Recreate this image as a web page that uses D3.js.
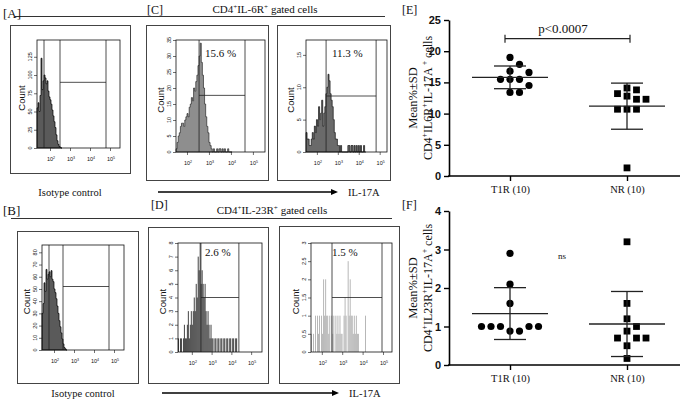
<!DOCTYPE html>
<html lang="en">
<head>
<meta charset="UTF-8" />
<title>CD4+ IL-17A panels</title>
<script src="https://cdn.jsdelivr.net/npm/d3@7"></script>
<style>
  body { margin: 0; background: #fff; }
  svg { display: block; background: #fff; }
  text { font-family: "Liberation Serif", "Times New Roman", serif; fill: #111; }
  .sans { font-family: "Liberation Sans", Arial, sans-serif; }
</style>
</head>
<body>
<svg width="685" height="409"></svg>
<script>
  // histogram counts, one bin per 0.05 decade from the left edge of each plot
  const histA = [55, 62, 50, 72, 123, 80, 92, 100, 96, 88, 92, 78, 70, 66, 60, 52, 44, 36, 28, 18, 10, 5, 2, 1, 0];
  const histB = [30, 38, 55, 48, 66, 58, 62, 64, 60, 65, 58, 56, 50, 47, 42, 36, 30, 24, 19, 14, 9, 5, 2, 1, 0];
  const histC1 = [1, 3, 5, 6, 8, 9, 9, 8, 10, 11, 12, 11, 14, 15, 17, 16, 20, 19, 22, 24, 27, 30, 34, 28, 24, 20, 15, 11, 8, 6,
                  3, 2, 1, 0, 1, 0, 0, 1, 0, 1, 1, 0, 1, 0, 1, 0, 0, 1, 0, 0, 0];
  const histC2 = [3, 2, 2, 1, 1, 2, 3, 2, 4, 3, 5, 4, 7, 5, 6, 8, 4, 6, 7, 9, 10, 12, 11, 9, 8, 7, 5, 3, 2, 2,
                  1, 1, 0, 1, 0, 0, 0, 0, 0, 0, 1, 1, 0, 1, 1, 0, 1, 0, 1, 0, 1, 0, 1, 0, 0, 1, 0];
  const histD1 = [1, 0, 1, 1, 0, 1, 2, 1, 1, 2, 3, 1, 2, 3, 2, 3, 4, 3, 5, 4, 7, 6, 8, 5, 6, 5, 4, 5, 3, 2,
                  3, 2, 1, 2, 1, 1, 0, 1, 1, 0, 1, 1, 0, 1, 1, 0, 1, 1, 0, 1, 1, 0, 1, 1, 0, 1, 1, 0, 1, 1, 0];
  const histD2 = [0.5, 0, 0.5, 0, 1, 0, 1, 0.5, 1, 0, 1, 0.5, 2, 1, 2, 1, 1, 0.5, 1, 0, 1, 0.5, 1, 0, 1, 0.5, 1, 0.5, 1, 0.5,
                  0.5, 0, 1, 1.5, 1, 0, 2.5, 1, 2, 1, 1, 0.5, 1, 0.5, 1, 0.5, 0.5, 0, 0, 0, 0, 0, 0, 1, 0];

  // % CD4+ cells per patient
  const groups = ["T1R (10)", "NR (10)"];
  const il6rT1R = [19.0, 17.9, 16.8, 15.5, 15.5, 15.5, 16.6, 14.5, 13.4, 13.4];
  const il6rNR = [14.1, 13.8, 13.2, 12.8, 12.3, 12.3, 10.7, 10.7, 10.7, 1.3];
  const il23rT1R = [2.9, 2.1, 1.6, 0.88, 0.88, 1.0, 1.0, 1.0, 1.0, 1.0];
  const il23rNR = [3.2, 1.6, 1.2, 1.0, 0.88, 0.7, 0.7, 0.7, 0.5, 0.17];

  const svg = d3.select("svg");
  const binStep = 0.05;

  function rich(t, parts, size) {
    let shift = 0;
    parts.forEach(([s, sup]) => {
      const target = sup ? -size * 0.38 : 0;
      t.append("tspan").attr("dy", target - shift)
        .attr("font-size", sup ? size * 0.65 : size).text(s);
      shift = target;
    });
    return t;
  }

  function flowPanel(p) {
    const g = svg.append("g");
    const [fx0, fy0, fx1, fy1] = p.frame;
    const [px0, py0, px1, py1] = p.plot;
    g.append("rect").attr("x", fx0 + 0.5).attr("y", fy0 + 0.5)
      .attr("width", fx1 - fx0).attr("height", fy1 - fy0)
      .attr("fill", "none").attr("stroke", "#444").attr("stroke-width", 1);

    const x = d3.scaleLog().domain([10 ** p.dom[0], 10 ** p.dom[1]]).range([px0, px1]);
    const y = d3.scaleLinear().domain([0, p.yMax]).range([py1, py0]);

    const pts = p.counts.map((c, i) => [10 ** (p.dom[0] + i * binStep), c]);
    if (p.kind === "area") {
      pts.push([10 ** (p.dom[0] + p.counts.length * binStep), 0]);
      const area = d3.area().x(d => x(d[0])).y0(y(0)).y1(d => y(d[1])).curve(d3.curveStepAfter);
      g.append("path").attr("d", area(pts))
        .attr("fill", p.fill).attr("stroke", p.stroke).attr("stroke-width", 0.7);
    } else {
      g.selectAll(".bar").data(pts.filter(d => d[1] > 0)).join("rect")
        .attr("x", d => x(d[0]))
        .attr("width", d => Math.max(0.8, x(d[0] * 10 ** binStep) - x(d[0]) - 0.2))
        .attr("y", d => y(d[1]))
        .attr("height", d => y(0) - y(d[1]))
        .attr("fill", p.fill);
    }

    // gates
    p.gates.forEach(v => {
      g.append("line").attr("x1", x(10 ** v)).attr("x2", x(10 ** v))
        .attr("y1", py0).attr("y2", py1).attr("stroke", "#222").attr("stroke-width", 0.8);
    });
    const gl = p.gates.length;
    g.append("line").attr("x1", x(10 ** p.gates[gl - 2])).attr("x2", x(10 ** p.gates[gl - 1]))
      .attr("y1", y(p.gateY)).attr("y2", y(p.gateY)).attr("stroke", "#222").attr("stroke-width", 0.8);

    g.append("rect").attr("x", px0).attr("y", py0).attr("width", px1 - px0).attr("height", py1 - py0)
      .attr("fill", "none").attr("stroke", "#111").attr("stroke-width", 0.8);

    // y axis
    const major = d3.range(0, p.yMax + 1e-9, p.yStep);
    const minor = d3.range(0, p.yMax + 1e-9, p.yMinor);
    const ya = g.append("g").attr("transform", `translate(${px0},0)`);
    ya.call(d3.axisLeft(y).tickValues(minor).tickSize(1.5).tickFormat(""));
    ya.call(d3.axisLeft(y).tickValues(major).tickSize(3).tickFormat(""));
    ya.selectAll(".domain").remove();
    ya.selectAll("line").attr("stroke", "#111").attr("stroke-width", 0.6);
    g.selectAll(".ylab").data(major).join("text")
      .attr("class", "sans")
      .attr("transform", d => `translate(${px0 - 5},${y(d)}) rotate(-90)`)
      .attr("text-anchor", "middle").attr("font-size", 5.5)
      .text(d => +d.toFixed(2));
    g.append("text").attr("class", "sans")
      .attr("transform", `translate(${px0 - 12},${(py0 + py1) / 2 + 4}) rotate(-90)`)
      .attr("text-anchor", "middle").attr("font-size", 9.5).text("Count");

    // x axis
    const decades = [1e2, 1e3, 1e4, 1e5];
    const xa = g.append("g").attr("transform", `translate(0,${py1})`);
    xa.call(d3.axisBottom(x).tickValues(x.ticks().filter(d => !decades.includes(d))).tickSize(1.5).tickFormat(""));
    xa.call(d3.axisBottom(x).tickValues(decades).tickSize(3).tickFormat(""));
    xa.selectAll(".domain").remove();
    xa.selectAll("line").attr("stroke", "#111").attr("stroke-width", 0.6);
    decades.forEach(d => {
      const t = g.append("text").attr("class", "sans").attr("x", x(d) + 1).attr("y", py1 + 13)
        .attr("text-anchor", "middle").attr("font-size", 5.5);
      rich(t, [["10", 0], [String(Math.round(Math.log10(d))), 1]], 5.5);
    });

    if (p.pct) {
      g.append("text").attr("x", p.pct[1]).attr("y", p.pct[2]).attr("font-size", 11).text(p.pct[0]);
    }
  }

  const flows = [
    { frame: [10, 25, 130, 173], plot: [37, 40, 120, 148], dom: [1.35, 5.5], yMax: 148, yStep: 25, yMinor: 5,
      gates: [1.7, 2.5, 4.8], gateY: 90, counts: histA, kind: "area", fill: "#5a5a5a", stroke: "#000" },
    { frame: [17, 231, 138, 383], plot: [42, 245, 124, 350], dom: [1.4, 5.5], yMax: 86, yStep: 10, yMinor: 2,
      gates: [1.75, 2.45, 4.75], gateY: 52, counts: histB, kind: "area", fill: "#5a5a5a", stroke: "#000" },
    { frame: [146, 25, 268, 180], plot: [176, 40, 265, 152], dom: [1.5, 5.55], yMax: 35, yStep: 5, yMinor: 1,
      gates: [2.55, 4.64], gateY: 17.7, counts: histC1, kind: "area", fill: "#8e8e8e", stroke: "#2a2a2a",
      pct: ["15.6 %", 205, 57] },
    { frame: [277, 25, 390, 180], plot: [306, 40, 387, 152], dom: [1.48, 5.35], yMax: 17.3, yStep: 5, yMinor: 1,
      gates: [2.44, 4.83], gateY: 8.65, counts: histC2, kind: "area", fill: "#6a6a6a", stroke: "#111",
      pct: ["11.3 %", 332, 57] },
    { frame: [148, 227, 268, 383], plot: [178, 243, 262, 352], dom: [1.3, 5.55], yMax: 8, yStep: 1, yMinor: 0.2,
      gates: [2.46, 4.38], gateY: 4, counts: histD1, kind: "bars", fill: "#161616",
      pct: ["2.6 %", 205, 256] },
    { frame: [279, 226, 399, 383], plot: [311, 243, 392, 352], dom: [1.47, 5.44], yMax: 3, yStep: 0.5, yMinor: 0.1,
      gates: [2.5, 4.95], gateY: 1.5, counts: histD2, kind: "bars", fill: "#a8a8a8",
      pct: ["1.5 %", 332, 256] }
  ];
  flows.forEach(flowPanel);

  // headers, separators, arrows
  svg.append("line").attr("x1", 15).attr("x2", 385).attr("y1", 16.5).attr("y2", 16.5).attr("stroke", "#333");
  svg.append("line").attr("x1", 11).attr("x2", 392).attr("y1", 218.5).attr("y2", 218.5).attr("stroke", "#333");
  svg.append("text").attr("x", 3).attr("y", 18).attr("font-size", 13).text("[A]");
  svg.append("text").attr("x", 3).attr("y", 215).attr("font-size", 13).text("[B]");
  svg.append("text").attr("x", 147).attr("y", 14).attr("font-size", 12).text("[C]");
  svg.append("text").attr("x", 151).attr("y", 209).attr("font-size", 12).text("[D]");
  rich(svg.append("text").attr("x", 265).attr("y", 13).attr("text-anchor", "middle"),
    [["CD4", 0], ["+", 1], ["IL-6R", 0], ["+", 1], [" gated cells", 0]], 11);
  rich(svg.append("text").attr("x", 272).attr("y", 214).attr("text-anchor", "middle"),
    [["CD4", 0], ["+", 1], ["IL-23R", 0], ["+", 1], [" gated cells", 0]], 11);
  svg.append("text").attr("x", 70).attr("y", 196).attr("text-anchor", "middle").attr("font-size", 10.5).text("Isotype control");
  svg.append("text").attr("x", 83).attr("y", 397).attr("text-anchor", "middle").attr("font-size", 10.5).text("Isotype control");

  function arrow(x0, x1, yy) {
    svg.append("line").attr("x1", x0).attr("x2", x1 - 5).attr("y1", yy).attr("y2", yy)
      .attr("stroke", "#000").attr("stroke-width", 1.3);
    svg.append("path").attr("d", `M${x1},${yy} L${x1 - 7},${yy - 3} L${x1 - 7},${yy + 3} Z`).attr("fill", "#000");
    svg.append("text").attr("x", x1 + 10).attr("y", yy + 4).attr("font-size", 10.5).text("IL-17A");
  }
  arrow(158, 338, 192);
  arrow(162, 339, 393);

  // dot plots
  function swarm(values, y, step, minDist) {
    const placed = [];
    return values.map(v => {
      const py = y(v);
      for (let k = 0; ; k++) {
        const off = k === 0 ? 0 : (k % 2 ? 1 : -1) * Math.ceil(k / 2) * step;
        if (placed.every(p => Math.hypot(p.dx - off, p.py - py) >= minDist)) {
          const pt = { v, dx: off, py };
          placed.push(pt);
          return pt;
        }
      }
    });
  }

  function dotPanel(q) {
    const g = svg.append("g");
    const y = d3.scaleLinear().domain([0, q.yMax]).range([q.bottom, q.top]);
    const x = d3.scalePoint().domain(groups).range([510, 627]);

    const ya = g.append("g").attr("transform", "translate(449,0)")
      .call(d3.axisLeft(y).tickValues(q.ticks).tickFormat(d3.format("d"))
        .tickSize(5).tickSizeOuter(0).tickPadding(3));
    ya.select(".domain").attr("stroke-width", 1.6);
    ya.selectAll("line").attr("stroke-width", 1.4);
    ya.selectAll("text").attr("class", "sans").attr("font-size", 11).attr("font-weight", "bold");

    g.append("line").attr("x1", 448).attr("x2", 680).attr("y1", y(0)).attr("y2", y(0))
      .attr("stroke", "#000").attr("stroke-width", 1.6);
    const xa = g.append("g").attr("transform", `translate(0,${y(0)})`)
      .call(d3.axisBottom(x).tickSize(5).tickSizeOuter(0).tickPadding(5));
    xa.select(".domain").remove();
    xa.selectAll("line").attr("stroke-width", 1.4);
    xa.selectAll("text").attr("font-size", 10.5)
      .style("font-family", '"Liberation Serif", "Times New Roman", serif');

    q.series.forEach((vals, i) => {
      const cx = x(groups[i]);
      const m = d3.mean(vals), sd = d3.deviation(vals);
      const pts = swarm(vals, y, 9.5, 8);
      if (i === 0) {
        g.selectAll(".c" + i).data(pts).join("circle")
          .attr("cx", d => cx + d.dx).attr("cy", d => d.py).attr("r", 3.6).attr("fill", "#000");
      } else {
        g.selectAll(".c" + i).data(pts).join("rect")
          .attr("x", d => cx + d.dx - 3.4).attr("y", d => d.py - 3.4)
          .attr("width", 6.8).attr("height", 6.8).attr("fill", "#000");
      }
      const ln = (x1, x2, y1, y2) => g.append("line").attr("x1", x1).attr("x2", x2).attr("y1", y1).attr("y2", y2)
        .attr("stroke", "#222").attr("stroke-width", 1.3);
      ln(cx - 38, cx + 38, y(m), y(m));
      ln(cx - 16, cx + 16, y(m + sd), y(m + sd));
      ln(cx - 16, cx + 16, y(m - sd), y(m - sd));
      ln(cx, cx, y(m + sd), y(m - sd));
    });

    const mid = (q.top + q.bottom) / 2;
    rich(g.append("text").attr("transform", `translate(417,${mid}) rotate(-90)`).attr("text-anchor", "middle"),
      [["Mean%±SD", 0]], 12.5);
    rich(g.append("text").attr("transform", `translate(432,${mid}) rotate(-90)`).attr("text-anchor", "middle"),
      q.title, 12);
    g.append("text").attr("x", 402).attr("y", q.labelY).attr("font-size", 12).text(q.label);
    return { g, x, y };
  }

  const e = dotPanel({ top: 20, bottom: 176, yMax: 25, ticks: [0, 5, 10, 15, 20, 25],
    series: [il6rT1R, il6rNR], label: "[E]", labelY: 14,
    title: [["CD4", 0], ["+", 1], ["IL6R", 0], ["+", 1], ["IL-17A", 0], [" +", 1], [" cells", 0]] });
  const f = dotPanel({ top: 211, bottom: 365, yMax: 4, ticks: [0, 1, 2, 3, 4],
    series: [il23rT1R, il23rNR], label: "[F]", labelY: 209,
    title: [["CD4", 0], ["+", 1], ["IL23R", 0], ["+", 1], ["IL-17A", 0], ["+", 1], [" cells", 0]] });

  // significance marks
  const by = e.y(22);
  [[505, 630, by, by], [505, 505, by - 4, by + 4], [630, 630, by - 4, by + 4]].forEach(([x1, x2, y1, y2]) =>
    e.g.append("line").attr("x1", x1).attr("x2", x2).attr("y1", y1).attr("y2", y2)
      .attr("stroke", "#222").attr("stroke-width", 1.2));
  e.g.append("text").attr("x", 563).attr("y", by - 6).attr("text-anchor", "middle").attr("font-size", 13).text("p<0.0007");
  f.g.append("text").attr("x", 562).attr("y", f.y(2.75)).attr("text-anchor", "middle").attr("font-size", 9).text("ns");
</script>
</body>
</html>
